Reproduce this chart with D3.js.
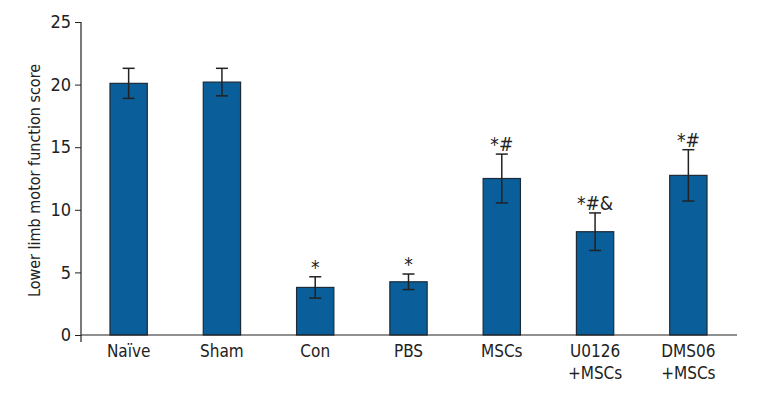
<!DOCTYPE html>
<html>
<head>
<meta charset="utf-8">
<script src="https://cdn.jsdelivr.net/npm/d3@7"></script>
<style>
  body { margin: 0; background: #fff; }
  svg { display: block; font-family: "Liberation Sans Narrow", "DejaVu Sans Condensed", sans-serif; }
</style>
</head>
<body>
<div id="chart"></div>
<script>
// groups, mean scores, error (SD) and significance marks
const groups = ['Naïve', 'Sham', 'Con', 'PBS', 'MSCs', 'U0126\n+MSCs', 'DMS06\n+MSCs'];
const scores = [20.1, 20.2, 3.8, 4.25, 12.5, 8.25, 12.75];
const errors = [1.2, 1.1, 0.85, 0.62, 1.95, 1.5, 2.05];
const marks = ['', '', '*', '*', '*#', '*#&', '*#'];
const yTicks = [0, 5, 10, 15, 20, 25];

const W = 760, H = 400;
const barColour = '#0a5e99';

const svg = d3.select('#chart').append('svg')
    .attr('width', W)
    .attr('height', H);

const x = d3.scaleBand()
    .domain(groups)
    .range([82, 735])
    .paddingInner(0.6)
    .paddingOuter(0.3);

const y = d3.scaleLinear()
    .domain([0, 25])
    .range([335, 22]);

const data = groups.map((g, i) => ({ name: g, value: scores[i], err: errors[i], mark: marks[i] }));

// y axis
const yAxis = d3.axisLeft(y)
    .tickValues(yTicks)
    .tickSize(6)
    .tickSizeOuter(0)
    .tickPadding(4);

svg.append('g')
    .attr('class', 'axis y')
    .attr('transform', 'translate(81, 0)')
    .call(yAxis)
    .call(g => g.select('.domain').remove())
    .call(g => g.selectAll('.tick line').attr('stroke', '#222'))
    .call(g => g.selectAll('.tick text')
        .attr('font-size', '18px')
        .attr('fill', '#222')
        .attr('font-family', '"Liberation Sans Narrow", "DejaVu Sans Condensed", sans-serif'));

svg.append('line')
    .attr('x1', 81).attr('x2', 81)
    .attr('y1', y(25)).attr('y2', y(0) + 7)
    .attr('stroke', '#222')
    .attr('stroke-width', 1.2);

svg.append('text')
    .attr('transform', `translate(40, ${(y(0) + y(25)) / 2 + 2}) rotate(-90)`)
    .attr('text-anchor', 'middle')
    .attr('font-size', '16px')
    .attr('fill', '#222')
    .text('Lower limb motor function score');

// bars
svg.append('g')
    .selectAll('rect')
    .data(data)
    .enter()
    .append('rect')
    .attr('x', d => x(d.name))
    .attr('y', d => y(d.value))
    .attr('width', x.bandwidth())
    .attr('height', d => y(0) - y(d.value))
    .attr('fill', barColour)
    .attr('stroke', '#1c2b38')
    .attr('stroke-width', 1.2);

// error bars
const cap = 6;
const err = svg.append('g')
    .attr('stroke', '#222')
    .attr('stroke-width', 1.5)
    .selectAll('g')
    .data(data)
    .enter()
    .append('g')
    .attr('transform', d => `translate(${x(d.name) + x.bandwidth() / 2}, 0)`);

err.append('line')
    .attr('y1', d => y(d.value + d.err))
    .attr('y2', d => y(d.value - d.err));
err.append('line')
    .attr('x1', -cap).attr('x2', cap)
    .attr('y1', d => y(d.value + d.err))
    .attr('y2', d => y(d.value + d.err));
err.append('line')
    .attr('x1', -cap).attr('x2', cap)
    .attr('y1', d => y(d.value - d.err))
    .attr('y2', d => y(d.value - d.err));

// significance marks
svg.append('g')
    .selectAll('text')
    .data(data.filter(d => d.mark))
    .enter()
    .append('text')
    .attr('x', d => x(d.name) + x.bandwidth() / 2)
    .attr('y', d => y(d.value + d.err) - 3)
    .attr('text-anchor', 'middle')
    .attr('font-size', '19px')
    .attr('fill', '#222')
    .text(d => d.mark);

// x axis baseline
svg.append('line')
    .attr('x1', 81).attr('x2', 737)
    .attr('y1', y(0)).attr('y2', y(0))
    .attr('stroke', '#222')
    .attr('stroke-width', 1.2);

// category labels (two lines where needed)
const labels = svg.append('g')
    .selectAll('text')
    .data(data)
    .enter()
    .append('text')
    .attr('x', d => x(d.name) + x.bandwidth() / 2)
    .attr('y', 357)
    .attr('text-anchor', 'middle')
    .attr('font-size', '17px')
    .attr('fill', '#222');

labels.selectAll('tspan')
    .data(d => d.name.split('\n').map(t => ({ t, x: x(d.name) + x.bandwidth() / 2 })))
    .enter()
    .append('tspan')
    .attr('x', d => d.x)
    .attr('dy', (d, i) => i === 0 ? 0 : 22)
    .text(d => d.t);
</script>
</body>
</html>
